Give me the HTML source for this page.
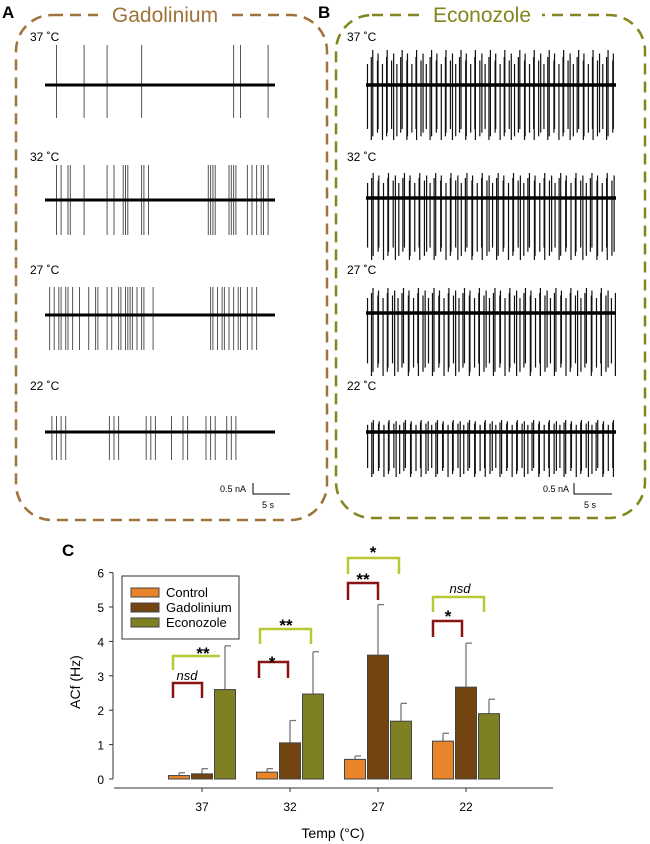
<!DOCTYPE html>
<html><head><meta charset="utf-8"><style>
body{margin:0;background:#fff;width:650px;height:844px;overflow:hidden;font-family:"Liberation Sans",sans-serif}
svg{position:absolute;left:0;top:0}
</style></head><body>
<svg id="fig" width="650" height="844">
<text x="2" y="18" font-size="17" font-weight="bold">A</text>
<text x="318" y="18" font-size="17" font-weight="bold">B</text>
<text x="62" y="556" font-size="17" font-weight="bold">C</text>
<rect x="16" y="15" width="311" height="505" rx="36" fill="none" stroke="#a0733a" stroke-width="2.5" stroke-dasharray="11,7"/>
<rect x="98" y="2" width="134" height="26" fill="#fff"/>
<text x="165" y="22" font-size="21" fill="#a0733a" text-anchor="middle">Gadolinium</text>
<rect x="336" y="15" width="309" height="503" rx="36" fill="none" stroke="#84851f" stroke-width="2.5" stroke-dasharray="11,7"/>
<rect x="422" y="2" width="120" height="26" fill="#fff"/>
<text x="482" y="22" font-size="21" fill="#84851f" text-anchor="middle">Econozole</text>
<g id="traces"></g>
<g font-size="9"><text x="220" y="492">0.5 nA</text><path d="M253 483V494H290" stroke="#000" fill="none"/><text x="262" y="508">5 s</text></g>
<g font-size="9"><text x="543" y="492">0.5 nA</text><path d="M574 483V494H612" stroke="#000" fill="none"/><text x="584" y="508">5 s</text></g>
<g id="chart"></g>
</svg>
<script>
const NS='http://www.w3.org/2000/svg';
function mk(p,t,a){const e=document.createElementNS(NS,t);for(const k in a)e.setAttribute(k,a[k]);p.appendChild(e);return e;}
const tr=document.getElementById('traces');
const aSpikes=[
 [0.05,0.17,0.27,0.42,0.82,0.85,0.97],
 [0.05,0.07,0.1,0.11,0.17,0.27,0.3,0.34,0.35,0.36,0.42,0.43,0.45,0.71,0.72,0.73,0.74,0.8,0.81,0.82,0.83,0.88,0.9,0.92,0.94,0.95,0.97],
 [0.02,0.04,0.06,0.07,0.09,0.1,0.12,0.15,0.19,0.22,0.23,0.27,0.29,0.32,0.33,0.35,0.36,0.37,0.38,0.4,0.42,0.43,0.47,0.72,0.73,0.75,0.77,0.78,0.8,0.82,0.84,0.85,0.88,0.9,0.92],
 [0.03,0.05,0.07,0.09,0.28,0.3,0.32,0.44,0.46,0.48,0.55,0.6,0.62,0.7,0.72,0.74,0.79,0.81,0.83]
];
const aRows=[{y:85,lab:37,ly:41,up:40,dn:33},{y:200,lab:32,ly:161,up:35,dn:35},{y:315,lab:27,ly:274,up:28,dn:35},{y:432,lab:22,ly:390,up:16,dn:28}];
aRows.forEach((r,i)=>{
 const t=mk(tr,'text',{x:30,y:r.ly,'font-size':12});t.textContent=r.lab+' ˚C';
 
 aSpikes[i].forEach(f=>{const x=45+f*230;mk(tr,'line',{x1:x,x2:x,y1:r.y-r.up,y2:r.y+r.dn,stroke:'#555','stroke-width':1});});
 const b=mk(tr,'line',{x1:45,x2:275,y1:r.y,y2:r.y,stroke:'#000','stroke-width':3});
 
});
const bCounts=[85,80,82,78];
const bJit=[0,0.3,-0.2,0.4,-0.4,0.1,0.5,-0.3,0.2,-0.1];
const bRows=[{y:85,lab:37,ly:41,up:35,dn:55},{y:198,lab:32,ly:161,up:25,dn:62},{y:313,lab:27,ly:274,up:25,dn:63},{y:432,lab:22,ly:390,up:12,dn:45}];
bRows.forEach((r,i)=>{
 const t=mk(tr,'text',{x:347,y:r.ly,'font-size':12});t.textContent=r.lab+' ˚C';
 
 const n=bCounts[i],w=250;
 for(let k=0;k<n;k++){const x=366+(k+0.5+bJit[k%10])*w/n;mk(tr,'line',{x1:x,x2:x,y1:r.y-r.up*(0.6+0.4*((k*7)%5)/4),y2:r.y+r.dn*(0.8+0.2*((k*3)%4)/3),stroke:'#111','stroke-width':1.2});}
 const b=mk(tr,'line',{x1:366,x2:616,y1:r.y,y2:r.y,stroke:'#000','stroke-width':3.5});
 
});
const categories=['37','32','27','22'];
const control=[0.1,0.2,0.57,1.1];
const gadolinium=[0.15,1.05,3.6,2.67];
const econozole=[2.6,2.47,1.68,1.9];
const controlErr=[0.18,0.3,0.67,1.33];
const gadoliniumErr=[0.3,1.7,5.07,3.95];
const econozoleErr=[3.87,3.7,2.2,2.32];
const yTicks=[0,1,2,3,4,5,6];
const ch=document.getElementById('chart');
const y0=779,yU=34.4;const Y=v=>y0-v*yU;
const X=i=>202+i*88;
mk(ch,'line',{x1:113,x2:113,y1:Y(6),y2:Y(0),stroke:'#333'});
yTicks.forEach(v=>{mk(ch,'line',{x1:109,x2:113,y1:Y(v),y2:Y(v),stroke:'#333'});const t=mk(ch,'text',{x:104,y:Y(v)+5,'font-size':12,'text-anchor':'end'});t.textContent=v;});
mk(ch,'line',{x1:114,x2:553,y1:788,y2:788,stroke:'#333'});
const series=[[control,controlErr,'#e8842a'],[gadolinium,gadoliniumErr,'#724412'],[econozole,econozoleErr,'#7e8022']];
const names=['control','gadolinium','econozole'];
categories.forEach((c,i)=>{
 mk(ch,'line',{x1:X(i),x2:X(i),y1:788,y2:792,stroke:'#333'});
 const t=mk(ch,'text',{x:X(i),y:811,'font-size':12,'text-anchor':'middle'});t.textContent=c;
 
 series.forEach((s,j)=>{
  const cx=X(i)+(j-1)*23;
  mk(ch,'line',{x1:cx,x2:cx,y1:Y(s[1][i]),y2:Y(s[0][i]),stroke:'#777','stroke-width':1.3});
  mk(ch,'line',{x1:cx,x2:cx+6,y1:Y(s[1][i]),y2:Y(s[1][i]),stroke:'#777','stroke-width':1.3});
  const r=mk(ch,'rect',{x:cx-10.5,y:Y(s[0][i]),width:21,height:s[0][i]*yU,fill:s[2],stroke:'#444','stroke-width':1});
  
 });
});
</script>
<svg width="650" height="844" style="pointer-events:none">
<g font-family="Liberation Sans" font-size="13">
<rect x="122" y="576" width="117" height="63" fill="#fff" stroke="#333"/>
<rect x="131" y="588" width="28" height="9" fill="#e8842a" stroke="#444"/><text x="166" y="597">Control</text>
<rect x="131" y="603" width="28" height="9" fill="#724412" stroke="#444"/><text x="166" y="612">Gadolinium</text>
<rect x="131" y="618" width="28" height="9" fill="#7e8022" stroke="#444"/><text x="166" y="627">Econozole</text>
<text transform="translate(80,682) rotate(-90)" text-anchor="middle" font-size="14">ACf (Hz)</text>
<text x="333" y="838" text-anchor="middle" font-size="14">Temp (°C)</text>
</g>
<g fill="none" stroke-width="2.5">
<path d="M173 698V683H202V698" stroke="#8a1414"/>
<path d="M173 670V656H220" stroke="#b8c832"/>
<path d="M259 678V662H288V678" stroke="#8a1414"/>
<path d="M260 644V629H311V644" stroke="#b8c832"/>
<path d="M348 600V583H378V600" stroke="#8a1414"/>
<path d="M348 574V558H399V574" stroke="#b8c832"/>
<path d="M433 637V621H462V637" stroke="#8a1414"/>
<path d="M433 612V597H484V612" stroke="#b8c832"/>
</g>
<g font-family="Liberation Sans" font-size="17" font-weight="bold" text-anchor="middle">
<text x="187" y="680" font-size="13" font-weight="normal" font-style="italic">nsd</text>
<text x="203" y="659">**</text>
<text x="272" y="668">*</text>
<text x="286" y="631">**</text>
<text x="363" y="585">**</text>
<text x="373" y="558">*</text>
<text x="448" y="622">*</text>
<text x="460" y="593" font-size="13" font-weight="normal" font-style="italic">nsd</text>
</g>
</svg>
</body></html>
